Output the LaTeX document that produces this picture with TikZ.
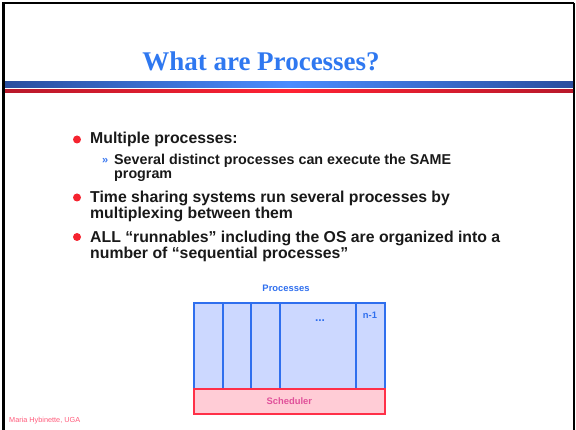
\documentclass[tikz,border=0pt]{standalone}
\usepackage{fontspec}
\setmainfont{Liberation Sans}
\newfontfamily\titlefont{Liberation Serif}
\definecolor{titleblue}{HTML}{2F78F0}
\definecolor{banddark}{HTML}{2A4E9E}
\definecolor{bandlight}{HTML}{4A8CFF}
\definecolor{reddark}{HTML}{B8182A}
\definecolor{redlight}{HTML}{FF2233}
\definecolor{dotred}{HTML}{F5232F}
\definecolor{subblue}{HTML}{3A78F0}
\definecolor{procline}{HTML}{2F6FEE}
\definecolor{procfill}{HTML}{CCD8FF}
\definecolor{schedline}{HTML}{FF3048}
\definecolor{schedfill}{HTML}{FFCCD6}
\definecolor{schedtext}{HTML}{E0509A}
\definecolor{footpink}{HTML}{FF5A7A}
\tikzset{
  bodytext/.style={anchor=base west, inner sep=0pt, text=black!90, font=\fontsize{15.8}{16}\selectfont\bfseries},
  subtext/.style={anchor=base west, inner sep=0pt, text=black!90, font=\fontsize{14.3}{14}\selectfont\bfseries},
  reddot/.style={circle, fill=dotred, inner sep=0pt, minimum size=8pt},
  labeltext/.style={anchor=base, inner sep=0pt, font=\fontsize{9.4}{10}\selectfont\bfseries},
  procbox/.style={draw=procline, fill=procfill, line width=1.6pt, anchor=north west, inner sep=0pt, minimum height=86pt},
  schedbox/.style={draw=schedline, fill=schedfill, line width=1.6pt, anchor=north west, inner sep=0pt, minimum height=25pt, minimum width=191pt}
}
\begin{document}
\begin{tikzpicture}[x=1pt,y=-1pt]
\useasboundingbox (0,0) rectangle (576,430);
% slide frame
\draw[line width=2.2pt] (3.5,430) -- (3.5,3) -- (574,3);
\draw[line width=1.4pt] (574,3) -- (574,430);
% title
\node[anchor=base, inner sep=0pt, text=titleblue, font=\titlefont\fontsize{27}{30}\selectfont\bfseries] (title) at (261,71) {What are Processes?};
% header bands
\shade[left color=banddark, right color=banddark, middle color=bandlight] (5,82) rectangle (573,88);
\shade[left color=reddark, right color=reddark, middle color=redlight] (5,89.3) rectangle (573,92.8);
% bullet list
\node[reddot] (d1) at (77,139.5) {};
\node[bodytext] (t1) at (90,144) {Multiple processes:};
\node[anchor=base west, inner sep=0pt, text=subblue, font=\fontsize{11}{12}\selectfont\bfseries] (s1) at (102,164) {»};
\node[subtext] (t1a) at (114,164.5) {Several distinct processes can execute the SAME};
\node[subtext] (t1b) at (114,178.5) {program};
\node[reddot] (d2) at (77,197.5) {};
\node[bodytext] (t2) at (90,202.5) {Time sharing systems run several processes by};
\node[bodytext] (t2b) at (90,218.5) {multiplexing between them};
\node[reddot] (d3) at (77,237) {};
\node[bodytext] (t3) at (90,242.5) {ALL “runnables” including the OS are organized into a};
\node[bodytext] (t3b) at (90,258.5) {number of “sequential processes”};
% process diagram
\node[labeltext, text=procline] (plabel) at (286,291.5) {Processes};
\node[procbox, minimum width=29pt] (p0) at (193,302) {};
\node[procbox, minimum width=28pt] (p1) at (222,302) {};
\node[procbox, minimum width=29pt] (p2) at (250,302) {};
\node[procbox, minimum width=76pt] (p3) at (279,302) {};
\node[procbox, minimum width=29pt] (p4) at (355,302) {};
\node[anchor=base, inner sep=0pt, text=procline, font=\fontsize{12}{12}\selectfont\bfseries] (dots) at (320,322) {...};
\node[labeltext, text=procline] (nlast) at (370,319) {n-1};
\node[schedbox] (sched) at (193,388) {};
\node[labeltext, text=schedtext, yshift=-3.5pt] (schedlabel) at (sched.center) {Scheduler};
% footer
\node[anchor=base west, inner sep=0pt, text=footpink, font=\fontsize{7.3}{8}\selectfont] (footer) at (9,422.5) {Maria Hybinette, UGA};
\end{tikzpicture}
\end{document}
